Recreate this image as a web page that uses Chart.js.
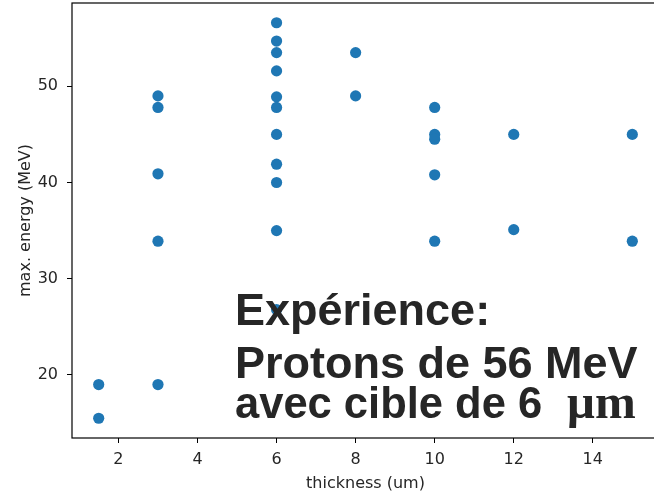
<!DOCTYPE html>
<html>
<head>
<meta charset="utf-8">
<script src="https://cdn.jsdelivr.net/npm/chart.js@4"></script>
<style>
  html, body { margin: 0; padding: 0; background: #fff; overflow: hidden; }
  #wrap { position: relative; width: 664px; height: 493px; }
</style>
</head>
<body>
<div id="wrap"><canvas id="nuage"></canvas></div>
<script>
// épaisseur de cible (um) et énergie max. des protons (MeV)
const thickness = [1.5, 1.5, 3, 3, 3, 3, 3, 6, 6, 6, 6, 6, 6, 6, 6, 6, 6, 6, 8, 8, 10, 10, 10, 10, 10, 12, 12, 15, 15];
const maxEnergy = [19.0, 15.5, 49.0, 47.8, 40.9, 33.9, 19.0, 56.6, 54.7, 53.5, 51.6, 48.9, 47.8, 45.0, 41.9, 40.0, 35.0, 26.8, 53.5, 49.0, 47.8, 45.0, 44.5, 40.8, 33.9, 45.0, 35.1, 45.0, 33.9];
const xTicks = [2, 4, 6, 8, 10, 12, 14];
const yTicks = [20, 30, 40, 50];
const noteLines = ['Expérience:', 'Protons de 56 MeV', 'avec cible de 6'];
const noteUnit = 'μm';

const points = thickness.map((t, i) => ({ x: t, y: maxEnergy[i] }));

// cadre façon matplotlib + texte par-dessus les points
const cadre = {
  id: 'cadre',
  afterDraw(chart) {
    const { ctx, chartArea: a } = chart;
    ctx.save();
    ctx.strokeStyle = '#000';
    ctx.lineWidth = 1.2;
    ctx.strokeRect(a.left, a.top, a.right - a.left, a.bottom - a.top);

    ctx.fillStyle = '#262626';
    ctx.textBaseline = 'alphabetic';
    ctx.textAlign = 'left';
    ctx.font = 'bold 45px "Liberation Sans", Arial, sans-serif';
    ctx.fillText(noteLines[0], 235, 325);
    ctx.fillText(noteLines[1], 235, 378);
    ctx.font = 'bold 43.5px "Liberation Sans", Arial, sans-serif';
    ctx.fillText(noteLines[2], 235, 418);
    const w = ctx.measureText(noteLines[2]).width;
    ctx.font = 'bold 49px "Liberation Serif", "Times New Roman", serif';
    ctx.fillText(noteUnit, 235 + w + 25, 418);
    ctx.restore();
  }
};

const tickFont = { family: '"DejaVu Sans", sans-serif', size: 16 };

new Chart(document.getElementById('nuage'), {
  type: 'scatter',
  data: {
    datasets: [{
      data: points,
      backgroundColor: '#1f77b4',
      borderColor: '#1f77b4',
      borderWidth: 0,
      pointRadius: 5.6,
      pointHoverRadius: 5.6
    }]
  },
  options: {
    responsive: true,
    maintainAspectRatio: false,
    animation: false,
    layout: { autoPadding: false, padding: { left: 0, top: 3, right: 5, bottom: 0 } },
    plugins: { legend: { display: false }, tooltip: { enabled: false } },
    scales: {
      x: {
        type: 'linear',
        min: 0.825,
        max: 15.675,
        afterBuildTicks: s => { s.ticks = xTicks.map(v => ({ value: v })); },
        afterFit: s => { s.height = 55; s.paddingLeft = 0; s.paddingRight = 0; },
        grid: { drawOnChartArea: false, tickLength: 5, color: '#000', tickWidth: 1 },
        border: { display: false },
        ticks: { color: '#262626', font: tickFont, padding: 7, maxRotation: 0 },
        title: { display: true, text: 'thickness (um)', color: '#262626', font: tickFont, padding: { top: 0, bottom: 0 } }
      },
      y: {
        type: 'linear',
        min: 13.445,
        max: 58.655,
        afterBuildTicks: s => { s.ticks = yTicks.map(v => ({ value: v })); },
        afterFit: s => { s.width = 72; s.paddingTop = 0; s.paddingBottom = 0; },
        grid: { drawOnChartArea: false, tickLength: 5, color: '#000', tickWidth: 1 },
        border: { display: false },
        ticks: { color: '#262626', font: tickFont, padding: 9 },
        title: { display: true, text: 'max. energy (MeV)', color: '#262626', font: tickFont, padding: { top: 16, bottom: 0 } }
      }
    }
  },
  plugins: [cadre]
});
</script>
</body>
</html>
